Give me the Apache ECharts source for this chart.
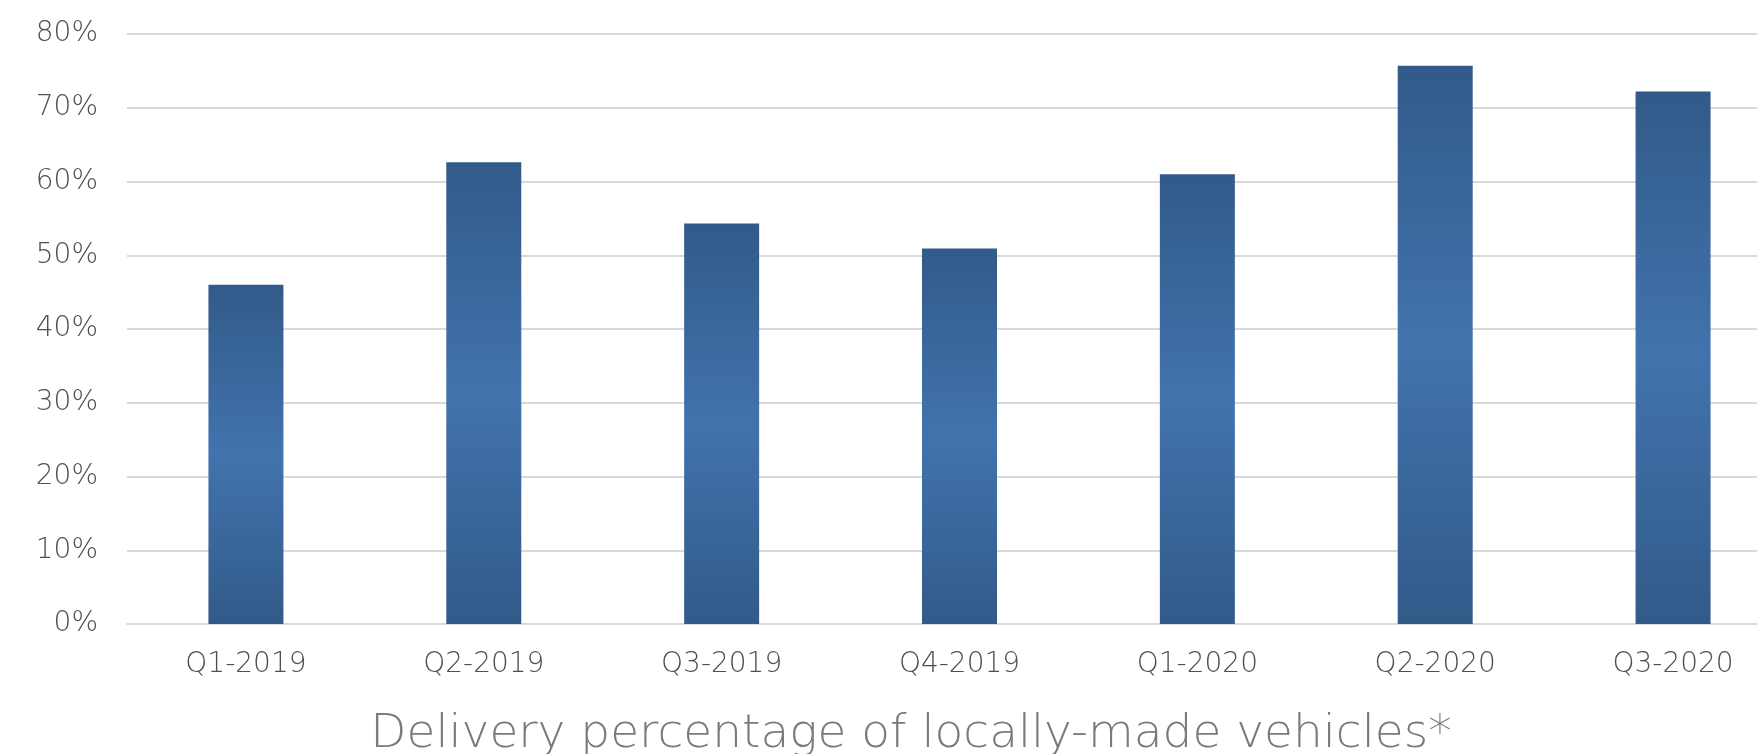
<!DOCTYPE html>
<html>
<head>
<meta charset="utf-8">
<script src="https://cdn.jsdelivr.net/npm/echarts@6/dist/echarts.min.js"></script>
<style>
html,body{margin:0;padding:0;background:#fff;overflow:hidden;}
#chart{width:1800px;height:754px;}
</style>
</head>
<body>
<div id="chart"></div>
<script>
const categories = ['Q1-2019','Q2-2019','Q3-2019','Q4-2019','Q1-2020','Q2-2020','Q3-2020'];
const shareValues = [46.0, 62.6, 54.3, 50.9, 61.0, 75.7, 72.2];
const yTicks = {min: 0, max: 80, interval: 10};
const chartTitle = 'Delivery percentage of locally-made vehicles*';

const chart = echarts.init(document.getElementById('chart'));
const fontFam = '"DejaVu Sans", sans-serif';
chart.setOption({
  animation: false,
  backgroundColor: '#ffffff',
  grid: {left: 127, right: 8, top: 34, bottom: 130, containLabel: false},
  xAxis: {
    type: 'category',
    data: categories,
    axisTick: {show: false},
    axisLine: {lineStyle: {color: '#d9d9d9', width: 2}},
    axisLabel: {color: '#505050', fontSize: 28, fontWeight: 200, fontFamily: fontFam, margin: 27}
  },
  yAxis: {
    type: 'value',
    min: yTicks.min, max: yTicks.max, interval: yTicks.interval,
    axisLine: {show: false},
    axisTick: {show: false},
    splitLine: {lineStyle: {color: '#d9d9d9', width: 2}},
    axisLabel: {color: '#505050', fontSize: 28, fontWeight: 200, fontFamily: fontFam, margin: 29,
      formatter: v => v + '%'}
  },
  graphic: [{
    type: 'text', x: 911, y: 735,
    style: {text: chartTitle, fill: '#7a7a7a', font: '200 47px ' + fontFam,
      textAlign: 'center', textVerticalAlign: 'middle'}
  }],
  series: [{
    type: 'bar',
    data: shareValues,
    barWidth: 75,
    itemStyle: {
      color: new echarts.graphic.LinearGradient(0, 0, 0, 1, [
        {offset: 0, color: '#325a89'},
        {offset: 0.5, color: '#4273ad'},
        {offset: 1, color: '#325a89'}
      ])
    }
  }]
});
</script>
</body>
</html>
